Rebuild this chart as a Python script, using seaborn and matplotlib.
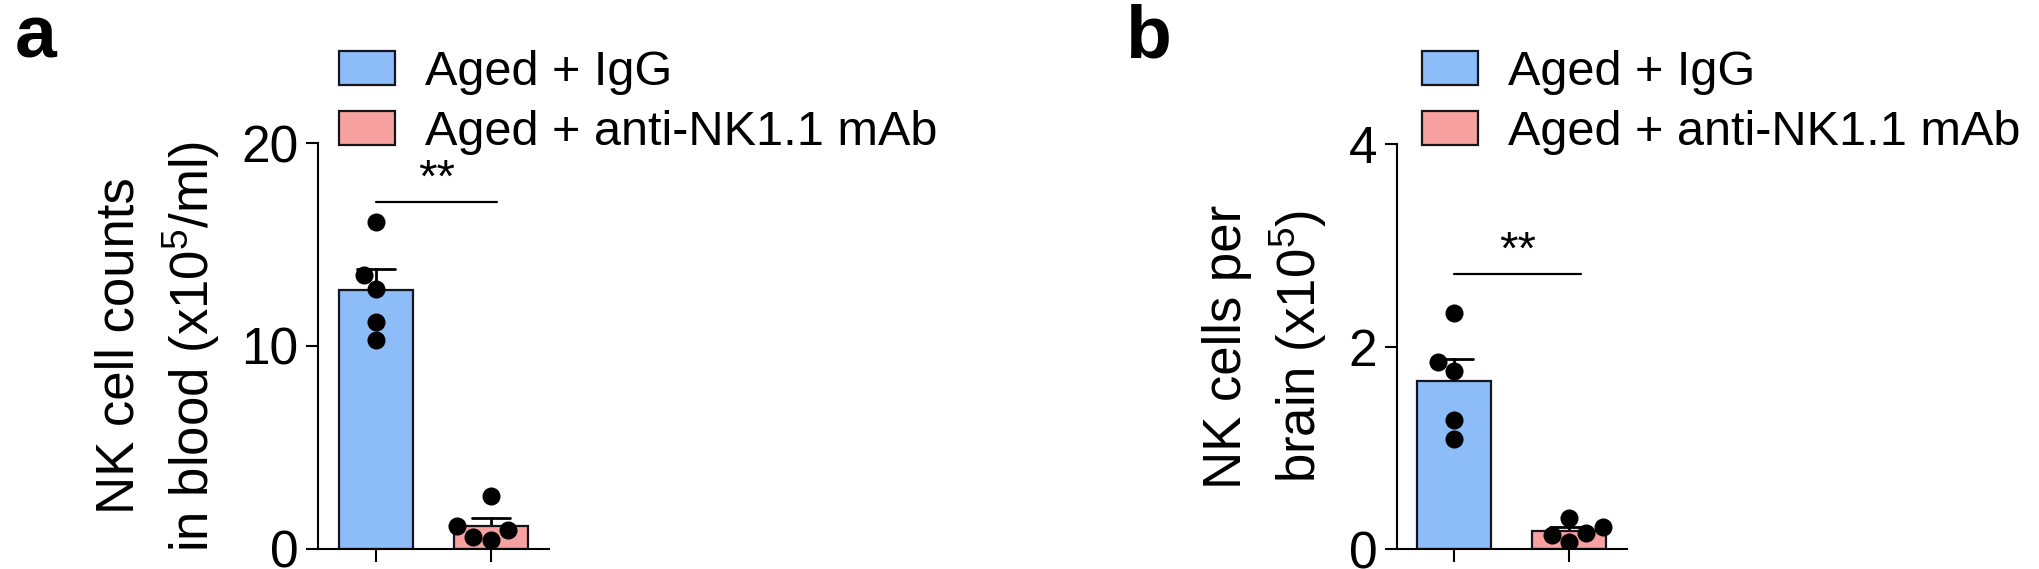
import pandas as pd
import matplotlib.pyplot as plt
import seaborn as sns
from matplotlib.patches import Patch

# values
groups = ['Aged + IgG', 'Aged + anti-NK1.1 mAb']
blood_igg = [16.1, 13.5, 12.8, 11.2, 10.3]
blood_anti = [2.6, 1.1, 0.9, 0.6, 0.45]
brain_igg = [2.33, 1.85, 1.76, 1.28, 1.09]
brain_anti = [0.31, 0.22, 0.16, 0.14, 0.07]
blood_ticks = [0, 10, 20]
brain_ticks = [0, 2, 4]
sig_blood = 17.1
sig_brain = 2.72
colors = ['#8CBDF9', '#F7A1A0']

sns.set_style('ticks')
plt.rcParams['font.family'] = ['Liberation Sans', 'DejaVu Sans']
plt.rcParams['mathtext.fontset'] = 'custom'
plt.rcParams['mathtext.rm'] = 'Liberation Sans'
plt.rcParams['mathtext.default'] = 'regular'
plt.rcParams['axes.linewidth'] = 1.5
for key in ['text.color', 'axes.labelcolor', 'xtick.color', 'ytick.color', 'axes.edgecolor']:
    plt.rcParams[key] = 'black'


def make_df(a, b):
    return pd.DataFrame({
        'group': [groups[0]] * len(a) + [groups[1]] * len(b),
        'value': a + b,
    })


def draw_panel(ax, df, ticks, sig_y, sig_x2, ylabel):
    sns.barplot(data=df, x='group', y='value', hue='group', order=groups,
                hue_order=groups, palette=colors, saturation=1, errorbar='se',
                capsize=0.33, err_kws={'color': 'black', 'linewidth': 2},
                width=0.64, edgecolor='#141420', linewidth=1.6, legend=False, ax=ax)
    # only the upper half of the error bar shows (lower half hidden by bar)
    for ln in ax.lines:
        ln.set_zorder(0.8)
    sns.swarmplot(data=df, x='group', y='value', order=groups, color='black',
                  size=13, linewidth=0, ax=ax, zorder=3)
    ax.set_xlim(-0.5, 1.5)
    ax.set_ylim(ticks[0], ticks[-1])
    ax.set_yticks(ticks)
    ax.set_xticks([0, 1])
    ax.set_xticklabels(['', ''])
    ax.set_xlabel('')
    ax.set_ylabel(ylabel, fontsize=38, linespacing=1.35, labelpad=14)
    ax.tick_params(axis='y', labelsize=37, length=9, width=1.5, pad=5)
    ax.tick_params(axis='x', length=9, width=1.5)
    sns.despine(ax=ax)
    ax.plot([0, sig_x2], [sig_y, sig_y], color='black', lw=1.6, clip_on=False)
    ax.text((0 + sig_x2) / 2, sig_y, '**', ha='center', va='bottom',
            fontsize=34, clip_on=False)
    handles = [Patch(facecolor=c, edgecolor='#141420', linewidth=1.6) for c in colors]
    return handles


fig = plt.figure(figsize=(20.4, 5.69), dpi=100)
ax_a = fig.add_axes([0.1559, 0.0357, 0.1132, 0.7125])
ax_b = fig.add_axes([0.6847, 0.0346, 0.1127, 0.7123])

h = draw_panel(ax_a, make_df(blood_igg, blood_anti), blood_ticks, sig_blood, 1.05,
               'NK cell counts\nin blood (x10$^5$/ml)')
draw_panel(ax_b, make_df(brain_igg, brain_anti), brain_ticks, sig_brain, 1.1,
           'NK cells per\nbrain (x10$^5$)')

for x0 in [339, 1422]:
    fig.legend(h, groups, loc='upper left', bbox_to_anchor=(x0 / 2040, 1 - 50 / 569),
               frameon=False, fontsize=35, borderpad=0, borderaxespad=0,
               handlelength=1.15, handleheight=0.7, handletextpad=0.62,
               labelspacing=0.3)

fig.text(15 / 2040, 1 - 58 / 569, 'a', fontsize=54, fontweight='bold', va='baseline')
fig.text(1125 / 2040, 1 - 58 / 569, 'b', fontsize=54, fontweight='bold', va='baseline')

fig.savefig('out.png', dpi=100)
